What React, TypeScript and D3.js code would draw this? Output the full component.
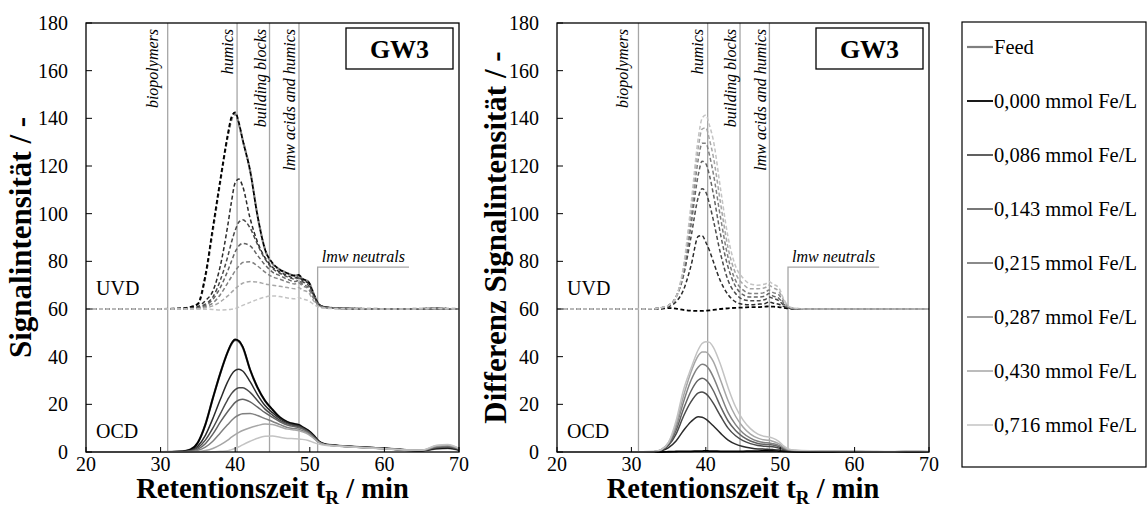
import React from "react";
import * as d3 from "d3";

// ---------- data ----------
const TIME = [20, 30, 33, 34, 35, 36, 37, 38, 39, 39.5, 40, 40.5, 41, 42, 43, 44, 45, 46, 47, 48, 48.5, 49, 49.8, 50.5, 51.2, 52, 54, 57, 60, 63, 65, 67, 68.5, 70];

const SERIES_NAMES = ["Feed", "0,000 mmol Fe/L", "0,086 mmol Fe/L", "0,143 mmol Fe/L", "0,215 mmol Fe/L", "0,287 mmol Fe/L", "0,430 mmol Fe/L", "0,716 mmol Fe/L"];

// Left panel – UVD (offset baseline 60)
const L_UVD_FEED = [60, 60, 60.3, 60.8, 62, 73.5, 93, 113.5, 132.5, 139.5, 141.8, 137.5, 131, 118, 99, 85, 79, 76.5, 75, 74, 74.3, 72.5, 71.5, 66.5, 62, 60.8, 60.3, 60.1, 60, 60, 60.1, 60.2, 60.1, 60];
const L_UVD_000 = [60, 60, 60.3, 60.8, 62.2, 74, 94, 114, 133, 140.5, 142.5, 138, 131, 118, 99, 85, 79.3, 76.5, 75, 74, 74.3, 72.7, 71.5, 66.5, 62, 60.8, 60.3, 60.1, 60, 60, 60.1, 60.2, 60.1, 60];
const L_UVD_086 = [60, 60, 60.1, 60.4, 61, 63.5, 67.5, 78, 95, 105, 113, 114.5, 111.5, 98, 88, 81.5, 77.5, 75.5, 74, 73, 73.5, 72, 70.8, 66, 62, 60.8, 60.3, 60.1, 60, 60, 60.1, 60.2, 60.1, 60];
const L_UVD_143 = [60, 60, 60.1, 60.3, 60.6, 62, 65, 72, 82, 88, 93, 96.5, 97.4, 94, 87, 81, 77, 75, 73.5, 72.5, 73, 71.5, 70, 65.5, 61.8, 60.8, 60.3, 60.1, 60, 60, 60.1, 60.2, 60.1, 60];
const L_UVD_215 = [60, 60, 60.1, 60.2, 60.4, 61.5, 64, 69, 76, 80, 84, 86.5, 87.5, 86.5, 82.5, 78.5, 75.5, 74, 72.5, 71.5, 72, 70.5, 69, 65, 61.6, 60.7, 60.3, 60.1, 60, 60, 60.1, 60.2, 60.1, 60];
const L_UVD_287 = [60, 60, 60, 60.1, 60.2, 61, 62.5, 66, 71, 73.5, 76, 78, 79.5, 79.8, 78, 75.5, 73.5, 72.5, 71.3, 70.5, 71, 69.8, 68.5, 64.5, 61.5, 60.6, 60.3, 60.1, 60, 60, 60.1, 60.2, 60.1, 60];
const L_UVD_430 = [60, 60, 60, 60, 60, 60.5, 61.3, 63, 65.5, 67, 68.5, 69.8, 70.8, 71.5, 71.3, 70.5, 70, 69.5, 69, 68.5, 69, 68, 67, 63.5, 61.2, 60.5, 60.2, 60.1, 60, 60, 60.1, 60.2, 60.1, 60];
const L_UVD_716 = [60, 60, 60, 60, 60, 59.9, 59.8, 59.6, 59.7, 59.9, 60.2, 60.8, 61.5, 62.8, 64, 65, 65.5, 65.2, 64.6, 64.3, 64.8, 64.2, 63.5, 62, 60.7, 60.3, 60.1, 60, 60, 60, 60.1, 60.2, 60.1, 60];

// Left panel – OCD
const L_OCD_FEED = [0, 0, 0.3, 1, 4, 11.5, 22.5, 33, 42, 45.3, 46.9, 46.3, 44, 34.5, 27, 21.5, 17.8, 14.5, 12.6, 11.7, 11.4, 10.5, 9, 7, 4.5, 3.3, 2.6, 2, 1.5, 0.8, 0.6, 1.4, 1.6, 0.8];
const L_OCD_000 = [0, 0, 0.3, 1, 4, 11.5, 22.5, 33, 42, 45.5, 47.2, 46.6, 44.2, 34.5, 27, 21.5, 17.8, 14.5, 12.6, 11.7, 11.4, 10.5, 9, 7, 4.5, 3.3, 2.6, 2, 1.5, 0.8, 0.6, 1.5, 1.7, 0.9];
const L_OCD_086 = [0, 0, 0.2, 0.6, 2.5, 7, 14, 22, 29.5, 32.5, 34.2, 34.7, 34, 29.5, 24, 19.5, 16.5, 14, 12.2, 11.3, 11, 10.2, 8.7, 6.7, 4.4, 3.3, 2.6, 2, 1.5, 0.8, 0.6, 1.7, 1.9, 1];
const L_OCD_143 = [0, 0, 0.1, 0.4, 1.8, 5, 10, 16, 22, 24.5, 26.2, 27, 27, 25, 21.5, 18, 15.5, 13.3, 11.8, 11, 10.7, 10, 8.5, 6.5, 4.3, 3.2, 2.6, 2, 1.5, 0.8, 0.6, 1.9, 2.1, 1.1];
const L_OCD_215 = [0, 0, 0.1, 0.3, 1.2, 3.5, 7.5, 12.5, 17, 19, 20.8, 21.8, 22.1, 21, 18.8, 16.5, 14.5, 12.7, 11.3, 10.6, 10.3, 9.7, 8.3, 6.3, 4.2, 3.1, 2.5, 2, 1.5, 0.8, 0.6, 2.1, 2.3, 1.2];
const L_OCD_287 = [0, 0, 0, 0.2, 0.7, 2, 4.5, 8, 11.5, 13.2, 14.6, 15.5, 16, 16.2, 15.3, 14, 12.8, 11.5, 10.3, 9.8, 9.6, 9, 7.8, 6, 4.1, 3.1, 2.5, 1.9, 1.5, 0.8, 0.7, 2.3, 2.6, 1.3];
const L_OCD_430 = [0, 0, 0, 0, 0.2, 0.6, 1.5, 3, 5, 6.2, 7.3, 8.2, 9, 10.2, 11.1, 11.7, 11.5, 10.6, 9.6, 9.2, 9, 8.5, 7.4, 5.8, 4, 3.1, 2.5, 1.9, 1.4, 0.8, 0.7, 2.6, 2.9, 1.4];
const L_OCD_716 = [0, 0, 0, 0, 0, 0, 0.1, 0.3, 0.5, 1, 1.5, 2.2, 3, 4.5, 5.8, 6.6, 6.7, 6.2, 5.7, 5.6, 5.5, 5.3, 4.8, 4, 3.3, 2.8, 2.4, 1.8, 1.4, 0.8, 0.8, 2.8, 3.1, 1.5];

// Right panel – UVD difference (offset baseline 60)
const R_UVD_000 = [60, 60, 60, 60.1, 60.4, 60.2, 59.6, 59.3, 59.2, 59.2, 59.3, 59.4, 59.6, 60, 60.3, 60.5, 60.6, 60.8, 60.8, 61, 61.1, 61, 60.8, 60.5, 60.2, 60, 60, 60, 60, 60, 60, 60, 60, 60];
const R_UVD_086 = [60, 60, 60.1, 60.3, 61, 63, 68, 78, 90.5, 90.8, 88, 84.5, 80, 71.5, 66, 63, 62, 61.8, 62, 62.3, 63, 62.5, 62, 61, 60.3, 60.1, 60, 60, 60, 60, 60, 60, 60, 60];
const R_UVD_143 = [60, 60, 60.1, 60.5, 61.5, 65, 74, 90, 107, 110.5, 109, 104, 97.5, 83, 72, 66.5, 64, 63.5, 63.5, 64, 65, 64.5, 63.5, 61.5, 60.4, 60.1, 60, 60, 60, 60, 60, 60, 60, 60];
const R_UVD_215 = [60, 60, 60.1, 60.5, 61.5, 65, 75, 95, 116.5, 122, 121, 116, 108.5, 91, 77.5, 69.5, 66, 65, 65, 65.5, 66.5, 65.5, 64.5, 62, 60.5, 60.1, 60, 60, 60, 60, 60, 60, 60, 60];
const R_UVD_287 = [60, 60, 60.1, 60.5, 61.5, 65, 76, 98, 123, 129.5, 129.5, 124.5, 117, 98, 81.5, 72, 68, 66.5, 66.5, 67, 68, 67, 66, 62.5, 60.6, 60.1, 60, 60, 60, 60, 60, 60, 60, 60];
const R_UVD_430 = [60, 60, 60.1, 60.5, 61.5, 65, 77, 101, 128, 135.5, 136, 131, 124, 104, 85.5, 75, 70.5, 68.5, 68.5, 69, 70, 69, 67.5, 63.5, 60.8, 60.2, 60, 60, 60, 60, 60, 60, 60, 60];
const R_UVD_716 = [60, 60, 60.1, 60.6, 61.5, 65, 78, 103.5, 132, 140, 141.4, 137, 131, 110, 90, 78, 73, 70.5, 70, 70.5, 71.5, 70.5, 69, 64, 61, 60.3, 60, 60, 60, 60, 60, 60, 60, 60];

// Right panel – OCD difference
const R_OCD_000 = [0, 0, 0, 0, 0.1, 0.2, 0.3, 0.3, 0.4, 0.4, 0.5, 0.4, 0.4, 0.3, 0.3, 0.3, 0.3, 0.4, 0.4, 0.5, 0.5, 0.5, 0.4, 0.3, 0.2, 0.1, 0, 0, 0, 0, 0, 0, 0, 0];
const R_OCD_086 = [0, 0, 0.1, 0.4, 1.8, 4.6, 9, 12.7, 14.8, 14.6, 13.8, 12.5, 11, 7.8, 5, 3.3, 2.3, 1.7, 1.3, 1.2, 1.1, 1, 0.8, 0.5, 0.3, 0.2, 0.2, 0.1, 0.1, 0.1, 0.1, 0.1, 0.1, 0.1];
const R_OCD_143 = [0, 0, 0.1, 0.7, 2.8, 7.5, 15, 21, 24.8, 25.2, 24.5, 22.8, 20.5, 15, 10, 6.8, 4.8, 3.5, 2.7, 2.4, 2.3, 2.2, 1.7, 1, 0.5, 0.3, 0.2, 0.2, 0.1, 0.1, 0.1, 0.1, 0.1, 0.1];
const R_OCD_215 = [0, 0, 0.1, 0.8, 3.2, 9, 18, 25.5, 30.2, 30.9, 30.3, 28.5, 25.8, 19, 13, 9, 6.3, 4.6, 3.6, 3.2, 3.1, 2.9, 2.3, 1.3, 0.7, 0.4, 0.3, 0.2, 0.2, 0.1, 0.1, 0.2, 0.2, 0.1];
const R_OCD_287 = [0, 0, 0.1, 0.9, 3.7, 10.5, 21, 30, 35.7, 36.8, 36.3, 34.5, 31.5, 24, 16.5, 11.5, 8, 5.8, 4.5, 3.9, 3.8, 3.5, 2.8, 1.6, 0.8, 0.5, 0.3, 0.3, 0.2, 0.1, 0.1, 0.2, 0.2, 0.1];
const R_OCD_430 = [0, 0, 0.2, 1, 4, 11.5, 23.5, 33.5, 40.5, 42, 42, 40.5, 38, 30, 21.5, 15, 10.5, 7.5, 5.8, 5, 4.9, 4.5, 3.5, 2, 1, 0.6, 0.4, 0.3, 0.2, 0.2, 0.1, 0.3, 0.3, 0.1];
const R_OCD_716 = [0, 0, 0.2, 1, 4, 13, 26, 35, 43, 45.5, 46.3, 46, 44, 36.5, 27, 19, 13.5, 9.8, 7.5, 6.5, 6.3, 5.8, 4.5, 2.5, 1.2, 0.8, 0.5, 0.4, 0.3, 0.2, 0.2, 0.4, 0.4, 0.2];

const X_TICKS = [20, 30, 40, 50, 60, 70];
const Y_TICKS = [0, 20, 40, 60, 80, 100, 120, 140, 160, 180];

const REGION_TIMES = [30.95, 40.25, 44.6, 48.55];
const REGION_LABELS = ["biopolymers", "humics", "building blocks", "lmw acids and humics"];
const NEUTRALS_TIMES = [51.05, 63.3];
const NEUTRALS_LEVEL = 77.6;
const NEUTRALS_LABEL = "lmw neutrals";

// ---------- styles ----------
const COLORS = ["#7f7f7f", "#000000", "#2b2b2b", "#4a4a4a", "#636363", "#808080", "#a6a6a6", "#c3c3c3"];
const WIDTHS = [2.2, 1.8, 1.5, 1.5, 1.5, 1.5, 1.5, 1.5];
const SERIF = "'Liberation Serif', 'Times New Roman', serif";

const LEFT_UVD = [L_UVD_FEED, L_UVD_000, L_UVD_086, L_UVD_143, L_UVD_215, L_UVD_287, L_UVD_430, L_UVD_716];
const LEFT_OCD = [L_OCD_FEED, L_OCD_000, L_OCD_086, L_OCD_143, L_OCD_215, L_OCD_287, L_OCD_430, L_OCD_716];
const RIGHT_UVD = [null, R_UVD_000, R_UVD_086, R_UVD_143, R_UVD_215, R_UVD_287, R_UVD_430, R_UVD_716];
const RIGHT_OCD = [null, R_OCD_000, R_OCD_086, R_OCD_143, R_OCD_215, R_OCD_287, R_OCD_430, R_OCD_716];

type PanelProps = {
  left: number; right: number; top: number; bottom: number;
  uvd: (number[] | null)[]; ocd: (number[] | null)[];
  yTitle: string; yTitleX: number;
};

function Panel({ left, right, top, bottom, uvd, ocd, yTitle, yTitleX }: PanelProps) {
  const x = d3.scaleLinear().domain([20, 70]).range([left, right]);
  const y = d3.scaleLinear().domain([0, 180]).range([bottom, top]);
  const lineGen = d3.line<number>().x((_, i) => x(TIME[i])).y((v) => y(v)).curve(d3.curveMonotoneX);
  const labelOffsets = [-10, -4.5, -4, -3.5];

  return (
    <g>
      {/* region lines */}
      {REGION_TIMES.map((t, i) => (
        <line key={"r" + i} x1={x(t)} x2={x(t)} y1={top} y2={bottom} stroke="#a6a6a6" strokeWidth={1.3} />
      ))}
      <polyline
        points={`${x(NEUTRALS_TIMES[0])},${bottom} ${x(NEUTRALS_TIMES[0])},${y(NEUTRALS_LEVEL)} ${x(NEUTRALS_TIMES[1])},${y(NEUTRALS_LEVEL)}`}
        fill="none" stroke="#a6a6a6" strokeWidth={1.3}
      />
      {REGION_TIMES.map((t, i) => (
        <text key={"rl" + i} transform={`translate(${x(t) + labelOffsets[i]},${top + 6}) rotate(-90)`}
          textAnchor="end" fontFamily={SERIF} fontStyle="italic" fontSize={16} fill="#000">
          {REGION_LABELS[i]}
        </text>
      ))}
      <text x={(x(NEUTRALS_TIMES[0]) + x(NEUTRALS_TIMES[1])) / 2} y={y(NEUTRALS_LEVEL) - 5} textAnchor="middle"
        fontFamily={SERIF} fontStyle="italic" fontSize={16}>{NEUTRALS_LABEL}</text>

      {/* curves */}
      {uvd.map((s, i) => s && (
        <path key={"u" + i} d={lineGen(s) || ""} fill="none" stroke={COLORS[i]} strokeWidth={WIDTHS[i]}
          strokeDasharray="4,2.5" />
      ))}
      {ocd.map((s, i) => s && (
        <path key={"o" + i} d={lineGen(s) || ""} fill="none" stroke={COLORS[i]} strokeWidth={WIDTHS[i]} />
      ))}

      {/* frame */}
      <rect x={left} y={top} width={right - left} height={bottom - top} fill="none" stroke="#000" strokeWidth={1.3} />

      {/* ticks */}
      {Y_TICKS.map((v) => (
        <g key={"yt" + v}>
          <line x1={left} x2={left + 6} y1={y(v)} y2={y(v)} stroke="#000" strokeWidth={1} />
          <text x={left - 18} y={y(v)} dy="0.35em" textAnchor="end" fontFamily={SERIF} fontSize={20}>{v}</text>
        </g>
      ))}
      {X_TICKS.map((v) => (
        <g key={"xt" + v}>
          <line x1={x(v)} x2={x(v)} y1={bottom} y2={bottom - 5} stroke="#000" strokeWidth={1} />
          <text x={x(v)} y={bottom + 19} textAnchor="middle" fontFamily={SERIF} fontSize={20}>{v}</text>
        </g>
      ))}

      {/* detector labels */}
      <text x={left + 10} y={y(60) - 14} fontFamily={SERIF} fontSize={20}>UVD</text>
      <text x={left + 10} y={bottom - 14} fontFamily={SERIF} fontSize={20}>OCD</text>

      {/* GW3 box */}
      <rect x={right - 113} y={top + 5} width={107} height={41} fill="#fff" stroke="#000" strokeWidth={1.3} />
      <text x={right - 59.5} y={top + 35} textAnchor="middle" fontFamily={SERIF} fontWeight="bold" fontSize={26}>GW3</text>

      {/* axis titles */}
      <text x={(left + right) / 2} y={bottom + 46} textAnchor="middle" fontFamily={SERIF} fontWeight="bold" fontSize={28.5}>
        Retentionszeit t<tspan fontSize={19} dy={6}>R</tspan><tspan dy={-6}> / min</tspan>
      </text>
      <text transform={`translate(${yTitleX},${(top + bottom) / 2}) rotate(-90)`} textAnchor="middle"
        fontFamily={SERIF} fontWeight="bold" fontSize={31}>{yTitle}</text>
    </g>
  );
}

function Legend() {
  const x0 = 962, y0 = 22, w = 184, h = 445;
  const rows = d3.scaleLinear().domain([0, SERIES_NAMES.length - 1]).range([47, 425]);
  return (
    <g>
      <rect x={x0} y={y0} width={w} height={h} fill="#fff" stroke="#000" strokeWidth={1.2} />
      {SERIES_NAMES.map((name, i) => (
        <g key={name}>
          <line x1={967} x2={993} y1={rows(i)} y2={rows(i)} stroke={COLORS[i]} strokeWidth={WIDTHS[i]} />
          <text x={994} y={rows(i)} dy="0.35em" fontFamily={SERIF} fontSize={20.5}>{name}</text>
        </g>
      ))}
    </g>
  );
}

export default function App() {
  return (
    <svg width={1147} height={516} style={{ position: "absolute", left: 0, top: 0, background: "#fff" }}>
      <rect width={1147} height={516} fill="#fff" />
      <Panel left={86} right={459} top={23} bottom={452} uvd={LEFT_UVD} ocd={LEFT_OCD}
        yTitle="Signalintensität / -" yTitleX={31} />
      <Panel left={557} right={929} top={23} bottom={452} uvd={RIGHT_UVD} ocd={RIGHT_OCD}
        yTitle="Differenz Signalintensität / -" yTitleX={506} />
      <Legend />
    </svg>
  );
}
